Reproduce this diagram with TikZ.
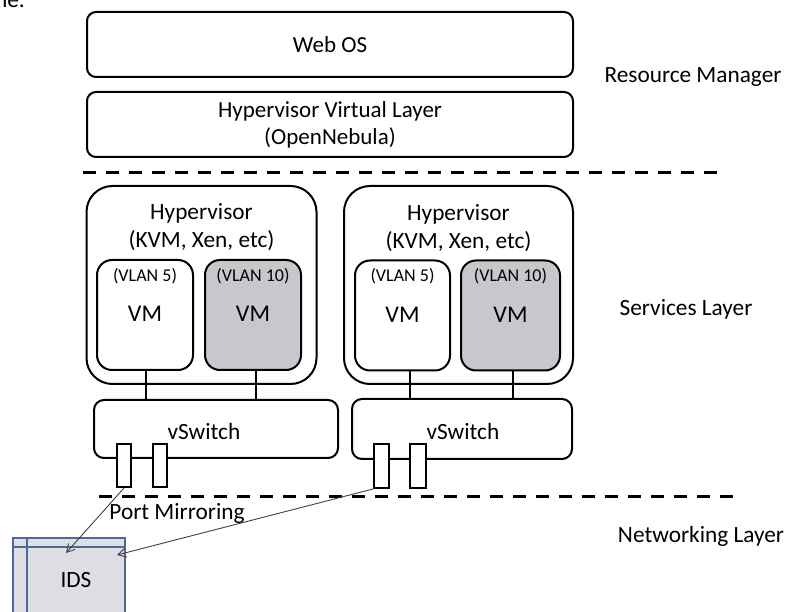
\documentclass[tikz,border=0pt]{standalone}
\usepackage{fontspec}
\setmainfont{Carlito}
\usetikzlibrary{arrows.meta}
\definecolor{vmgrey}{HTML}{C9C7CB}
\definecolor{idsfill}{HTML}{DFDEE3}
\definecolor{idsblue}{HTML}{4A6A9C}
\definecolor{arrowgrey}{HTML}{404040}
\tikzset{
  layerbox/.style={draw, line width=2pt, rounded corners=9pt, fill=white,
    minimum width=486pt, minimum height=65pt, align=center, inner sep=0pt,
    font=\fontsize{23}{27}\selectfont},
  hypbox/.style={draw, line width=2pt, rounded corners=26pt, fill=white,
    minimum height=198pt, inner sep=0pt},
  vmbox/.style={draw, line width=2pt, rounded corners=15pt,
    minimum width=96pt, minimum height=110pt, inner sep=0pt},
  switchbox/.style={draw, line width=2pt, rounded corners=10pt, fill=white,
    inner sep=0pt, font=\fontsize{23}{27}\selectfont},
  portbox/.style={draw, line width=2pt, fill=white, minimum width=14pt,
    minimum height=43pt, inner sep=0pt},
  sep/.style={line width=3pt, dash pattern=on 13pt off 10pt},
  link/.style={line width=1.5pt},
  mirror/.style={draw=arrowgrey, line width=0.9pt, -{Straight Barb[length=8pt,width=9pt]}},
  txt/.style={font=\fontsize{23.3}{27}\selectfont, inner sep=0pt},
  small/.style={font=\fontsize{18}{21}\selectfont, inner sep=0pt, text=black},
}
\begin{document}
\begin{tikzpicture}[x=1pt, y=-1pt]
\useasboundingbox (0,0) rectangle (788,612);
\fill[white] (0,0) rectangle (788,612);

% fragment of text running in from the top left
\node[txt, anchor=base east] (frag) at (25,8) {ne.};

% resource manager layer
\node[layerbox] (webos) at (330,44.5) {Web OS};
\node[layerbox] (hvl) at (330,124.5) {Hypervisor Virtual Layer\\(OpenNebula)};
\node[txt] (rm) at (693,77) {Resource Manager};

\draw[sep] (83,173) coordinate (s1a) -- (720,173) coordinate (s1b);

% hypervisor hosts
\node[hypbox, minimum width=230pt] (hyp1) at (201.5,285) {};
\node[hypbox, minimum width=229pt] (hyp2) at (458.5,285) {};
\node[txt] (h1a) at (201.5,213) {Hypervisor};
\node[txt] (h1b) at (201.5,241) {(KVM, Xen, etc)};
\node[txt] (h2a) at (458.5,214) {Hypervisor};
\node[txt] (h2b) at (458.5,242) {(KVM, Xen, etc)};

% virtual machines
\node[vmbox, fill=white] (vm1) at (145,315) {};
\node[vmbox, fill=vmgrey] (vm2) at (253,315) {};
\node[vmbox, fill=white, minimum width=95pt] (vm3) at (402.5,315.5) {};
\node[vmbox, fill=vmgrey, minimum width=99pt] (vm4) at (510.5,315.5) {};
\foreach \v/\lab in {vm1/{(VLAN 5)}, vm2/{(VLAN 10)}, vm3/{(VLAN 5)}, vm4/{(VLAN 10)}}{
  \node[small] at ([yshift=-17pt]\v.north) {\lab};
  \node[txt, font=\fontsize{24}{28}\selectfont] at ([yshift=1pt]\v.center) {VM};
}

\node[txt] (sl) at (686,309) {Services Layer};

% virtual switches
\node[switchbox, minimum width=244pt, minimum height=58pt] (sw1) at (216,429) {};
\node[switchbox, minimum width=220pt, minimum height=60pt] (sw2) at (462,429) {};
\node[txt] at (204,431) {vSwitch};
\node[txt] at (463,431) {vSwitch};

% uplinks from the VMs to the switches
\draw[link] ([xshift=1pt]vm1.south) -- ([xshift=1pt]vm1.south |- sw1.north);
\draw[link] ([xshift=3pt]vm2.south) -- ([xshift=3pt]vm2.south |- sw1.north);
\draw[link] ([xshift=7.5pt]vm3.south) -- ([xshift=7.5pt]vm3.south |- sw2.north);
\draw[link] ([xshift=2.5pt]vm4.south) -- ([xshift=2.5pt]vm4.south |- sw2.north);

% switch ports
\node[portbox] (p1) at (124,465.5) {};
\node[portbox] (p2) at (160,465.5) {};
\node[portbox, minimum width=15pt, minimum height=44pt] (p3) at (381.5,466) {};
\node[portbox, minimum width=16pt, minimum height=44pt] (p4) at (418,466) {};

\draw[sep] (99,497) coordinate (s2a) -- (735,497) coordinate (s2b);

% networking layer
\node[txt] (nl) at (701,536) {Networking Layer};
\node[txt] (pm) at (177,513) {Port Mirroring};

% intrusion detection system
\path[fill=idsfill] (13,538) rectangle (125,640);
\draw[idsblue, line width=2pt] (13,538) rectangle (125,640);
\draw[idsblue, line width=2pt] (27,538) -- (27,640);
\draw[idsblue, line width=2pt] (13,547) -- (125,547);
\node[txt] (ids) at (76,580) {IDS};
\coordinate (idsin1) at (66,553);
\coordinate (idsin2) at (117,555);

\draw[mirror] (p1.south) -- (idsin1);
\draw[mirror] (p3.south west) -- (idsin2);
\end{tikzpicture}
\end{document}
